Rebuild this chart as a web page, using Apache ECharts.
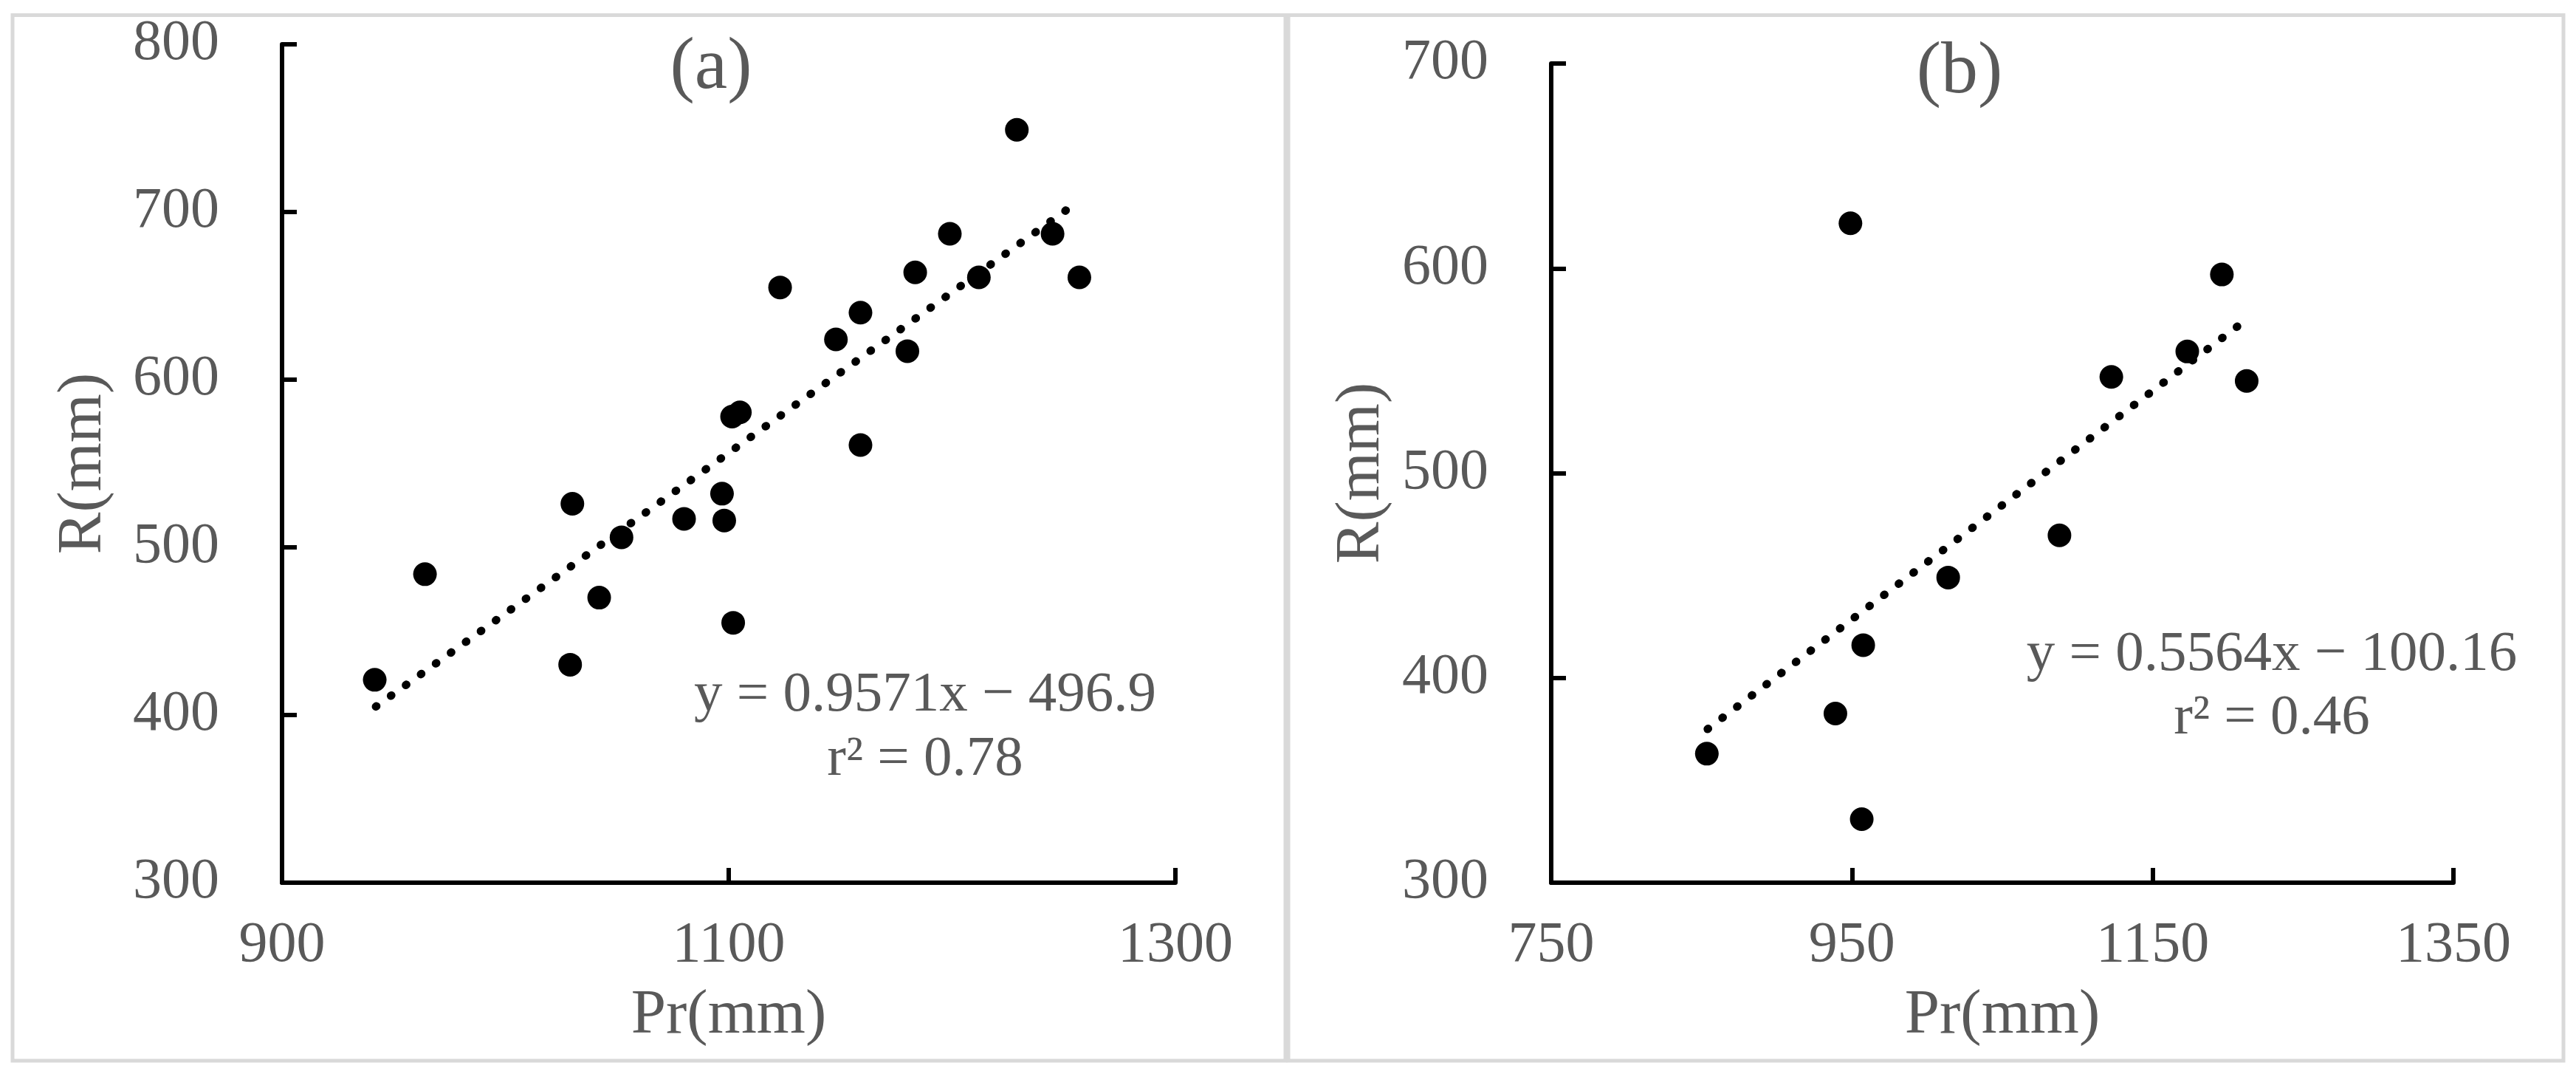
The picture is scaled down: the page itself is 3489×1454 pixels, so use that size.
<!DOCTYPE html>
<html>
<head>
<meta charset="utf-8">
<script src="https://cdn.jsdelivr.net/npm/echarts@6/dist/echarts.min.js"></script>
<style>
  html, body { margin: 0; padding: 0; background: #fff; }
  #chart { width: 3489px; height: 1454px; }
</style>
</head>
<body>
<div id="chart"></div>
<script>
// panel (a)
const prA = [941.5, 964, 1029, 1030, 1042, 1052, 1080, 1097, 1098, 1102, 1101.5, 1105,
  1123, 1148, 1159, 1159, 1180, 1183.5, 1199, 1212, 1229, 1245, 1257];
const rA = [421, 484, 430, 526, 470, 506, 517, 532, 516, 455, 578, 580.5,
  655, 624, 640, 561, 617, 664, 687, 661, 749, 687, 661];
const trendA = [[942, 405], [1251, 701]];
const ticksXA = [900, 1100, 1300];
const eqA = ["y = 0.9571x − 496.9", "r² = 0.78"];

// panel (b)
const prB = [853.5, 939, 949, 957.5, 956.5, 1014, 1088, 1122.5, 1173, 1196, 1212.5];
const rB = [363, 382.6, 622, 416, 331, 449, 469.6, 547, 559.4, 597, 545];
const trendB = [[854, 375], [1207, 572]];
const ticksXB = [750, 950, 1150, 1350];
const eqB = ["y = 0.5564x − 100.16", "r² = 0.46"];

const FONT = '"Liberation Serif", "Times New Roman", serif';
const GREY = "#595959";

const zip = (xs, ys) => xs.map((x, i) => [x, ys[i]]);
const plain = (v) => String(v);

function xAxis(idx, min, max, ticks) {
  return {
    type: "value", gridIndex: idx, min, max,
    name: "Pr(mm)", nameLocation: "middle", nameGap: 138,
    nameTextStyle: { color: GREY, fontFamily: FONT, fontSize: 85 },
    axisLine: { lineStyle: { color: "#000", width: 6 } },
    axisTick: { inside: true, length: 20, customValues: ticks, lineStyle: { color: "#000", width: 6 } },
    axisLabel: { customValues: ticks, formatter: plain, margin: 47, color: GREY, fontFamily: FONT, fontSize: 78 },
    splitLine: { show: false },
  };
}

function yAxis(idx, min, max, gap) {
  return {
    type: "value", gridIndex: idx, min, max, interval: 100,
    name: "R(mm)", nameLocation: "middle", nameGap: gap,
    nameTextStyle: { color: GREY, fontFamily: FONT, fontSize: 85 },
    axisLine: { show: true, lineStyle: { color: "#000", width: 6 } },
    axisTick: { show: true, inside: true, length: 20, lineStyle: { color: "#000", width: 6 } },
    axisLabel: { formatter: plain, margin: 85, color: GREY, fontFamily: FONT, fontSize: 78 },
    splitLine: { show: false },
  };
}

function text(x, y, str, size) {
  return {
    type: "text", x, y, silent: true,
    style: { text: str, fill: GREY, font: `${size}px ${FONT}`, align: "center", verticalAlign: "middle" },
  };
}

const chart = echarts.init(document.getElementById("chart"), null, { renderer: "canvas" });

chart.setOption({
  backgroundColor: "#fff",
  animation: false,
  grid: [
    { left: 382, top: 60, width: 1210, height: 1135 },
    { left: 2101, top: 86, width: 1222, height: 1109 },
  ],
  xAxis: [xAxis(0, 900, 1300, ticksXA), xAxis(1, 750, 1350, ticksXB)],
  yAxis: [yAxis(0, 300, 800, 226), yAxis(1, 300, 700, 214)],
  series: [
    { type: "scatter", xAxisIndex: 0, yAxisIndex: 0, data: zip(prA, rA),
      symbol: "circle", symbolSize: 32, itemStyle: { color: "#000", opacity: 1 } },
    { type: "line", xAxisIndex: 0, yAxisIndex: 0, data: trendA, symbol: "none", z: 3,
      lineStyle: { color: "#000", width: 11, type: [1, 24], cap: "round" } },
    { type: "scatter", xAxisIndex: 1, yAxisIndex: 1, data: zip(prB, rB),
      symbol: "circle", symbolSize: 32, itemStyle: { color: "#000", opacity: 1 } },
    { type: "line", xAxisIndex: 1, yAxisIndex: 1, data: trendB, symbol: "none", z: 3,
      lineStyle: { color: "#000", width: 11, type: [1, 24], cap: "round" } },
  ],
  graphic: [
    { type: "rect", silent: true, shape: { x: 17, y: 20.5, width: 1724, height: 1415.5 },
      style: { fill: "none", stroke: "#d9d9d9", lineWidth: 5 } },
    { type: "rect", silent: true, shape: { x: 1745, y: 20.5, width: 1727, height: 1415.5 },
      style: { fill: "none", stroke: "#d9d9d9", lineWidth: 5 } },
    text(963, 93, "(a)", 100),
    text(2654, 99, "(b)", 100),
    text(1253, 942, eqA[0], 77),
    text(1253, 1029, eqA[1], 77),
    text(3077, 887, eqB[0], 77),
    text(3077, 973, eqB[1], 77),
  ],
});
</script>
</body>
</html>
